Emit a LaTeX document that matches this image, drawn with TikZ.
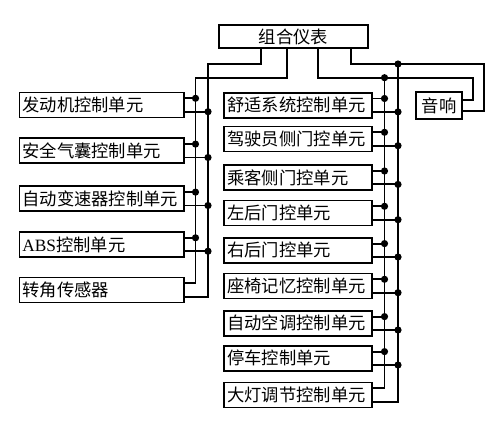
\documentclass[tikz,border=0pt]{standalone}
\usepackage{fontspec}
\setmainfont{Liberation Serif}
\newfontfamily\cjk{Noto Sans CJK SC}
\usepackage{tikz}
\usetikzlibrary{calc}

\begin{document}
\begin{tikzpicture}[x=1pt, y=-1pt, line width=1.9pt,
    unitbox/.style={draw, inner sep=3pt, minimum height=25pt, align=left, font=\cjk\fontsize{17.3}{20}\selectfont},
    leftunit/.style={unitbox, text width=158.5pt},
    rightunit/.style={unitbox, text width=142pt},
    mainbox/.style={draw, inner sep=0pt, font=\cjk\fontsize{17.3}{20}\selectfont}]
    \useasboundingbox (0,0) rectangle (500,421);

    % Cluster and audio
    \node[mainbox, minimum width=149pt, minimum height=23pt] (zhyb) at (293.3,36.5) {组合仪表};
    \node[mainbox, minimum width=46pt, minimum height=27pt] (yx) at (439,105.5) {音响};

    % Left units
    \node[leftunit] (fdj) at (101.7,105) {发动机控制单元};
    \node[leftunit] (aqqn) at (101.7,150.8) {安全气囊控制单元};
    \node[leftunit] (zdbsq) at (101.7,198.8) {自动变速器控制单元};
    \node[leftunit] (abs) at (101.7,244.5) {\textrm{ABS}控制单元};
    \node[leftunit] (zjcg) at (101.7,290) {转角传感器};

    % Right units
    \node[rightunit] (ssxt) at (298.3,105.2) {舒适系统控制单元};
    \node[rightunit] (jsy) at (298.3,139) {驾驶员侧门控单元};
    \node[rightunit] (ckc) at (298.3,177.7) {乘客侧门控单元};
    \node[rightunit] (zhm) at (298.3,213) {左后门控单元};
    \node[rightunit] (yhm) at (298.3,250.3) {右后门控单元};
    \node[rightunit] (zyjy) at (298.3,286) {座椅记忆控制单元};
    \node[rightunit] (zdkt) at (298.3,323.3) {自动空调控制单元};
    \node[rightunit] (tc) at (298.3,358.3) {停车控制单元};
    \node[rightunit] (ddtj) at (298.3,395) {大灯调节控制单元};

    % Bus tops and corners
    \coordinate (lbA) at (195.5,77.7);
    \coordinate (lbB) at (208,64);
    \coordinate (rbA) at (384.5,77.7);
    \coordinate (rbB) at (398,64);
    \coordinate (yxA) at (473,77.7);
    \coordinate (yxB) at (484,64);

    % Two wires per unit
    \foreach \u in {fdj,aqqn,zdbsq,abs,zjcg,ssxt,jsy,ckc,zhm,yhm,zyjy,zdkt,tc,ddtj} {
        \coordinate (\u-a) at ($(\u.east)+(0,-6.7)$);
        \coordinate (\u-b) at ($(\u.east)+(0,6.7)$);
    }
    \foreach \u in {fdj,aqqn,zdbsq,abs} {
        \draw (\u-a) -- (\u-a -| lbA);
        \draw (\u-b) -- (\u-b -| lbB);
        \fill (\u-a -| lbA) circle (3.6pt);
        \fill (\u-b -| lbB) circle (3.6pt);
    }
    \foreach \u in {ssxt,jsy,ckc,zhm,yhm,zyjy,zdkt,tc} {
        \draw (\u-a) -- (\u-a -| rbA);
        \draw (\u-b) -- (\u-b -| rbB);
        \fill (\u-a -| rbA) circle (3.6pt);
        \fill (\u-b -| rbB) circle (3.6pt);
    }

    % Buses from the cluster
    \draw ($(zhyb.south)+(-32.6,0)$) |- (lbB) |- (zjcg-b);
    \draw ($(zhyb.south)+(-6.6,0)$) |- (lbA) |- (zjcg-a);
    \draw ($(zhyb.south)+(24.7,0)$) |- (yxA) |- ($(yx.east)+(0,-5.5)$);
    \draw ($(zhyb.south)+(57.7,0)$) |- (yxB) |- ($(yx.east)+(0,5.5)$);
    \draw (rbA) |- (ddtj-a);
    \draw (rbB) |- (ddtj-b);
    \fill (rbA) circle (3.6pt);
    \fill (rbB) circle (3.6pt);
\end{tikzpicture}
\end{document}
